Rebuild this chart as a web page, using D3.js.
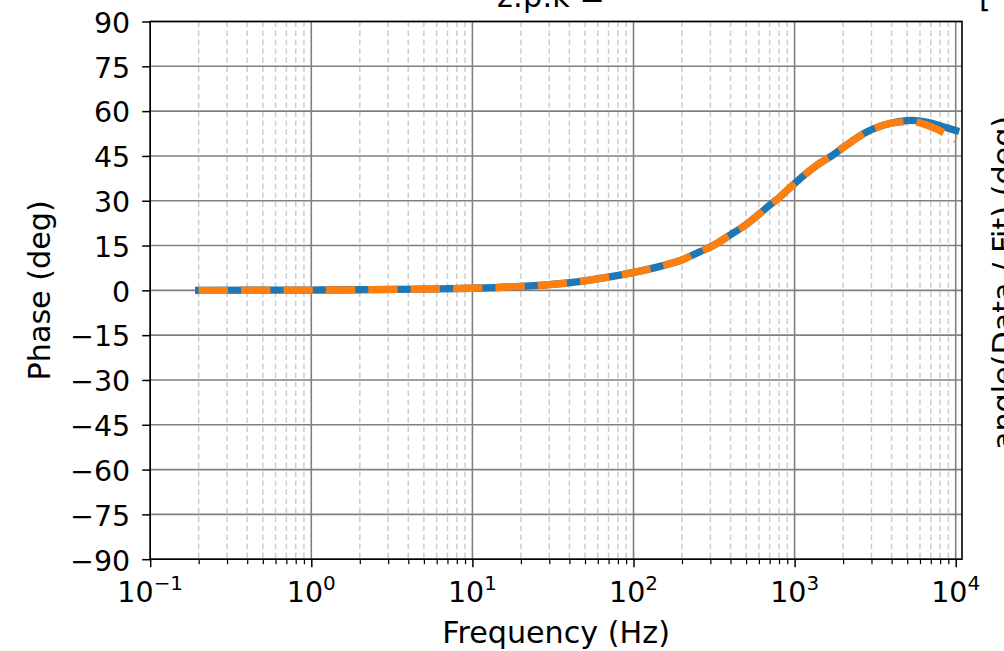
<!DOCTYPE html>
<html><head><meta charset="utf-8">
<script src="https://cdn.jsdelivr.net/npm/d3@7"></script>
<style>
html,body{margin:0;padding:0;background:#fff;}
svg{display:block;font-family:"DejaVu Sans",sans-serif;}
</style></head>
<body><svg id="c" width="1004" height="651"></svg>
<script>
// ---- data ----
const freqHz = [0.2, 0.5, 1, 2, 5, 10, 20, 30, 50, 70, 100, 150, 200, 260, 300, 400, 500, 700, 800, 1000, 1400, 1750, 2000, 2800, 4000, 5300, 7000, 8800, 10000];
const phaseData = [0, 0.05, 0.1, 0.2, 0.4, 0.7, 1.3, 1.9, 3.2, 4.4, 6.0, 8.2, 10.2, 13.0, 14.5, 18.6, 22.0, 28.5, 31.0, 35.8, 42.2, 45.5, 47.8, 53.0, 56.0, 56.9, 56.0, 54.4, 53.5];
const phaseFit  = [0, 0.05, 0.1, 0.2, 0.4, 0.7, 1.3, 1.9, 3.2, 4.4, 6.0, 8.2, 10.2, 13.0, 14.5, 18.6, 22.0, 28.5, 31.0, 35.8, 42.2, 45.5, 47.8, 53.0, 56.0, 56.5, 54.8, 52.2, 50.4];
const yTicks = [-90, -75, -60, -45, -30, -15, 0, 15, 30, 45, 60, 75, 90];
const xDecades = [-1, 0, 1, 2, 3, 4];
const xLabel = "Frequency (Hz)";
const yLabel = "Phase (deg)";
const titleLeft = "z:p:k =";
const titleRight = "[";
const rightLabel = "angle(Data / Fit) (deg)";

const svg = d3.select("#c");
const L = 150.2, R = 962, T = 21.5, B = 559.2;
const x = d3.scaleLog().domain([0.1, Math.pow(10, 4.039)]).range([L, R]);
const y = d3.scaleLinear().domain([-90, 90]).range([B, T]);
const FS = 28.5;   // tick labels
const LFS = 30.2;  // axis labels

const minor = [];
xDecades.forEach(k => { for (let m = 2; m <= 9; m++) { const v = m * Math.pow(10, k); if (v < x.domain()[1]) minor.push(v); } });
const majors = xDecades.map(k => Math.pow(10, k));

const g = svg.append("g");
g.selectAll(".mg").data(minor).enter().append("line")
  .attr("x1", d => x(d)).attr("x2", d => x(d)).attr("y1", T).attr("y2", B)
  .attr("stroke", "#cdcdcd").attr("stroke-width", 1.5).attr("stroke-dasharray", "5.5 3.5");
g.selectAll(".Mg").data(majors).enter().append("line")
  .attr("x1", d => x(d)).attr("x2", d => x(d)).attr("y1", T).attr("y2", B)
  .attr("stroke", "#808080").attr("stroke-width", 1.6);
g.selectAll(".yg").data(yTicks).enter().append("line")
  .attr("x1", L).attr("x2", R).attr("y1", d => y(d)).attr("y2", d => y(d))
  .attr("stroke", "#808080").attr("stroke-width", 1.6);

svg.append("clipPath").attr("id", "clp").append("rect")
  .attr("x", L).attr("y", T).attr("width", R - L).attr("height", B - T);
const line = d3.line().x(d => x(d[0])).y(d => y(d[1])).curve(d3.curveMonotoneX);
const lg = svg.append("g").attr("clip-path", "url(#clp)");
lg.append("path").datum(freqHz.map((f, i) => [f, phaseData[i]]))
  .attr("d", line).attr("fill", "none").attr("stroke", "#1f77b4")
  .attr("stroke-width", 7.3).attr("stroke-linecap", "square").attr("stroke-linejoin", "round");
lg.append("path").datum(freqHz.map((f, i) => [f, phaseFit[i]]))
  .attr("d", line).attr("fill", "none").attr("stroke", "#ff7f0e")
  .attr("stroke-width", 7.3).attr("stroke-dasharray", "29.3 13.1").attr("stroke-linejoin", "round");

svg.append("rect").attr("x", L).attr("y", T).attr("width", R - L).attr("height", B - T)
  .attr("fill", "none").attr("stroke", "#000").attr("stroke-width", 1.6);

const xa = svg.append("g").attr("transform", `translate(0,${B})`);
xa.call(d3.axisBottom(x).tickValues(majors).tickFormat("").tickSizeInner(8).tickSizeOuter(0));
xa.select(".domain").remove();
xa.selectAll(".tick line").attr("stroke", "#000").attr("stroke-width", 1.5);
const xm = svg.append("g").attr("transform", `translate(0,${B})`);
xm.call(d3.axisBottom(x).tickValues(minor).tickFormat("").tickSizeInner(5).tickSizeOuter(0));
xm.select(".domain").remove();
xm.selectAll(".tick line").attr("stroke", "#000").attr("stroke-width", 1.2);

xDecades.forEach(k => {
  const t = svg.append("text").attr("x", x(Math.pow(10, k))).attr("y", 601.5)
    .attr("text-anchor", "middle").attr("font-size", FS).attr("fill", "#000");
  t.append("tspan").text("10");
  t.append("tspan").attr("font-size", FS * 0.7).attr("dy", -12)
    .text(k < 0 ? "\u2212" + (-k) : String(k));
});

const ya = svg.append("g").attr("transform", `translate(${L},0)`);
ya.call(d3.axisLeft(y).tickValues(yTicks).tickSizeInner(8).tickSizeOuter(0).tickPadding(12)
  .tickFormat(d => d < 0 ? "\u2212" + (-d) : String(d)));
ya.select(".domain").remove();
ya.selectAll(".tick line").attr("stroke", "#000").attr("stroke-width", 1.5);
ya.selectAll(".tick text").attr("font-size", FS).attr("font-family", "DejaVu Sans")
  .attr("fill", "#000").attr("dy", null).attr("y", 10.8);

svg.append("text").attr("x", (L + R) / 2).attr("y", 643).attr("text-anchor", "middle")
  .attr("font-size", LFS).text(xLabel);
svg.append("text").attr("transform", `translate(50,${(T + B) / 2}) rotate(-90)`)
  .attr("text-anchor", "middle").attr("font-size", LFS).text(yLabel);

svg.append("text").attr("x", 497).attr("y", 7).attr("font-size", LFS).text(titleLeft);
svg.append("text").attr("x", 979).attr("y", 7).attr("font-size", LFS).text(titleRight);
svg.append("text").attr("transform", `translate(1014,283) rotate(-90)`)
  .attr("text-anchor", "middle").attr("font-size", LFS).text(rightLabel);
</script></body></html>
